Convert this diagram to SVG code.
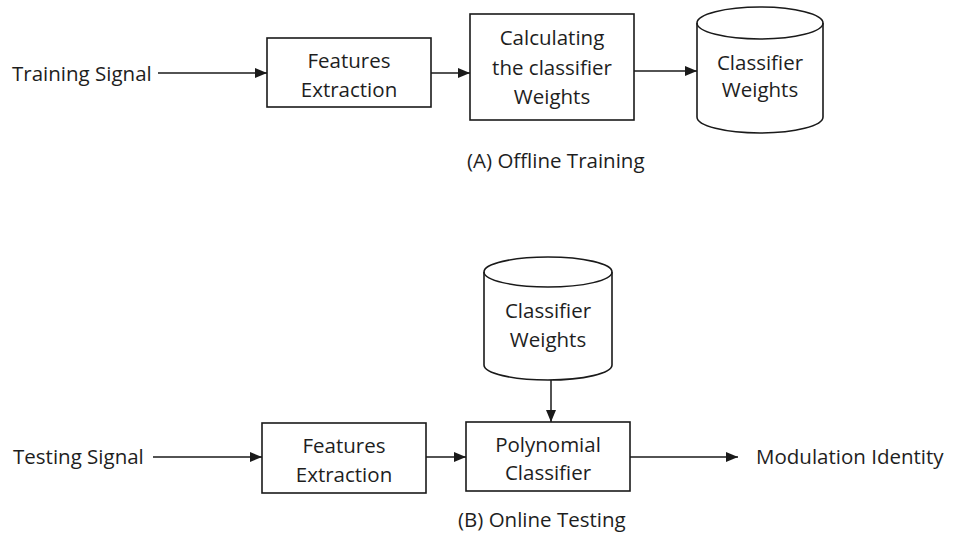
<svg xmlns="http://www.w3.org/2000/svg" width="953" height="536" viewBox="0 0 953 536">
  <style>
    text { font-family: "Open Sans", "Noto Sans", "DejaVu Sans", sans-serif; font-size: 20.5px; fill: #1e1e1e; }
    .c { text-anchor: middle; }
    .box { fill: #ffffff; stroke: #1a1a1a; stroke-width: 1.6; }
    .edge { fill: none; stroke: #1a1a1a; stroke-width: 1.5; }
  </style>
  <defs>
    <marker id="arrow" markerWidth="12" markerHeight="10" refX="12" refY="5" orient="auto" markerUnits="userSpaceOnUse">
      <path d="M0,0 L12,5 L0,10 Z" fill="#1a1a1a"/>
    </marker>
  </defs>
  <rect width="953" height="536" fill="#ffffff"/>

  <!-- (A) Offline training -->
  <g id="training-signal"><text x="12" y="81">Training Signal</text></g>
  <g id="features-a">
    <rect class="box" x="267" y="38" width="164" height="69"/>
    <text class="c" x="349" y="68">Features</text>
    <text class="c" x="349" y="97">Extraction</text>
  </g>
  <g id="calc-weights">
    <rect class="box" x="470" y="14" width="164" height="106"/>
    <text class="c" x="552" y="45">Calculating</text>
    <text class="c" x="552" y="75">the classifier</text>
    <text class="c" x="552" y="104">Weights</text>
  </g>
  <g id="weights-store-a">
    <path class="box" d="M697,23 A63,16 0 0 1 823,23 L823,117 A63,16 0 0 1 697,117 Z"/>
    <path class="edge" d="M697,23 A63,16 0 0 0 823,23"/>
    <text class="c" x="760" y="70">Classifier</text>
    <text class="c" x="760" y="97">Weights</text>
  </g>
  <g id="caption-a"><text x="467" y="168">(A) Offline Training</text></g>

  <!-- (B) Online testing -->
  <g id="testing-signal"><text x="13" y="464">Testing Signal</text></g>
  <g id="features-b">
    <rect class="box" x="262" y="423" width="164" height="70"/>
    <text class="c" x="344" y="453">Features</text>
    <text class="c" x="344" y="482">Extraction</text>
  </g>
  <g id="weights-store-b">
    <path class="box" d="M484,272 A64,15 0 0 1 612,272 L612,365 A64,15 0 0 1 484,365 Z"/>
    <path class="edge" d="M484,272 A64,15 0 0 0 612,272"/>
    <text class="c" x="548" y="318">Classifier</text>
    <text class="c" x="548" y="347">Weights</text>
  </g>
  <g id="poly-classifier">
    <rect class="box" x="466" y="422" width="164" height="69"/>
    <text class="c" x="548" y="452">Polynomial</text>
    <text class="c" x="548" y="480">Classifier</text>
  </g>
  <g id="modulation-identity"><text x="756" y="464">Modulation Identity</text></g>
  <g id="caption-b"><text x="458" y="527">(B) Online Testing</text></g>

  <g id="connectors">
    <line class="edge" x1="158" y1="73" x2="267" y2="73" marker-end="url(#arrow)"/>
    <line class="edge" x1="431" y1="73" x2="470" y2="73" marker-end="url(#arrow)"/>
    <line class="edge" x1="634" y1="71" x2="697" y2="71" marker-end="url(#arrow)"/>
    <line class="edge" x1="153" y1="457" x2="262" y2="457" marker-end="url(#arrow)"/>
    <line class="edge" x1="426" y1="457" x2="466" y2="457" marker-end="url(#arrow)"/>
    <line class="edge" x1="551" y1="380" x2="551" y2="422" marker-end="url(#arrow)"/>
    <line class="edge" x1="630" y1="457" x2="738" y2="457" marker-end="url(#arrow)"/>
  </g>
</svg>
